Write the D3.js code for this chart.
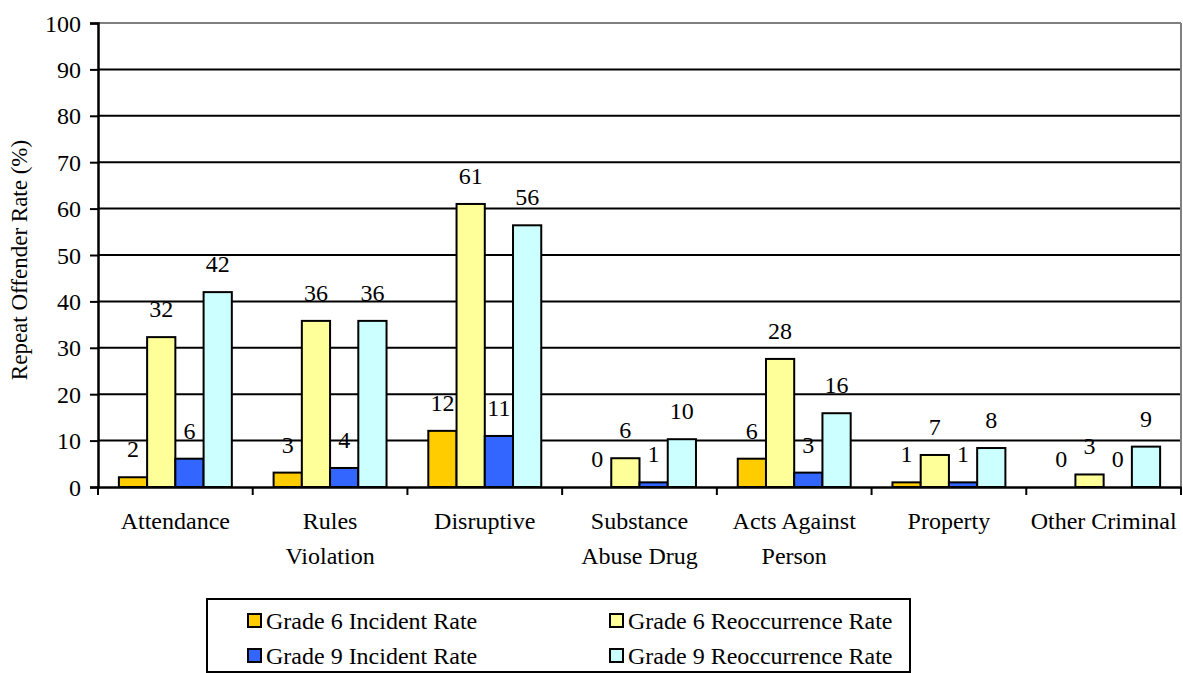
<!DOCTYPE html>
<html>
<head>
<meta charset="utf-8">
<script src="https://cdn.jsdelivr.net/npm/d3@7.9.0/dist/d3.min.js"></script>
<style>
  body { margin: 0; background: #fff; }
  svg { display: block; }
  svg text { font-family: "Liberation Serif", "DejaVu Serif", serif !important; fill: #000; }
</style>
</head>
<body>
<svg id="chart" width="1183" height="673" font-family="Liberation Serif, DejaVu Serif, serif"></svg>
<script>
// categories and series
const categories = [
  ["Attendance"],
  ["Rules", "Violation"],
  ["Disruptive"],
  ["Substance", "Abuse Drug"],
  ["Acts Against", "Person"],
  ["Property"],
  ["Other Criminal"]
];
const seriesNames = [
  "Grade 6 Incident Rate",
  "Grade 6 Reoccurrence Rate",
  "Grade 9 Incident Rate",
  "Grade 9 Reoccurrence Rate"
];
const grade6Incident = [2.1, 3.1, 12.1, 0, 6.1, 1.0, 0];
const grade6Reoccurrence = [32.3, 35.8, 61.0, 6.2, 27.6, 6.9, 2.7];
const grade9Incident = [6.1, 4.1, 11.0, 1.0, 3.1, 1.0, 0];
const grade9Reoccurrence = [42.0, 35.8, 56.4, 10.3, 15.9, 8.4, 8.7];
const yTicks = [0, 10, 20, 30, 40, 50, 60, 70, 80, 90, 100];
const colors = ["#FFCC00", "#FFFF99", "#3366FF", "#CCFFFF"];

const allSeries = [grade6Incident, grade6Reoccurrence, grade9Incident, grade9Reoccurrence];

const svg = d3.select("#chart");
const plotLeft = 98, plotRight = 1181, plotTop = 23, plotBottom = 487;
const fontSize = 24;

const y = d3.scaleLinear().domain([0, 100]).range([plotBottom, plotTop]);
const x = d3.scaleBand().domain(d3.range(categories.length)).range([plotLeft, plotRight]).paddingInner(0).paddingOuter(0);
// the four bars sit in the middle of each category
const groupW = x.bandwidth() * 0.73;
const xs = d3.scaleBand().domain(d3.range(seriesNames.length)).range([0, groupW]);

// gridlines
svg.append("g").selectAll("line")
  .data(yTicks.filter(d => d > 0))
  .join("line")
  .attr("x1", plotLeft).attr("x2", plotRight)
  .attr("y1", d => y(d)).attr("y2", d => y(d))
  .attr("stroke", d => d === 100 ? "#808080" : "#000")
  .attr("stroke-width", 2);

// right edge of plot area
svg.append("line")
  .attr("x1", plotRight).attr("x2", plotRight)
  .attr("y1", y(100)).attr("y2", y(0))
  .attr("stroke", "#808080").attr("stroke-width", 2);

// y axis
const yAxis = svg.append("g")
  .attr("transform", `translate(${plotLeft},0)`)
  .call(d3.axisLeft(y).tickValues(yTicks).tickSize(8).tickPadding(8));
yAxis.attr("font-family", null).attr("font-size", null);
yAxis.select(".domain").attr("stroke", "#000").attr("stroke-width", 2.5);
yAxis.selectAll(".tick line").attr("stroke", "#000").attr("stroke-width", 2);
yAxis.selectAll(".tick text")
  .attr("font-size", fontSize)
  .attr("x", -17)
  .attr("dy", "0.34em");

// bars
const groups = svg.append("g").selectAll("g")
  .data(categories)
  .join("g")
  .attr("transform", (d, i) => `translate(${x(i) + (x.bandwidth() - groupW) / 2},0)`);

groups.each(function (cat, ci) {
  const g = d3.select(this);
  allSeries.forEach((vals, si) => {
    const v = vals[ci];
    if (v > 0) {
      g.append("rect")
        .attr("x", xs(si))
        .attr("y", y(v))
        .attr("width", xs.bandwidth())
        .attr("height", y(0) - y(v))
        .attr("fill", colors[si])
        .attr("stroke", "#000")
        .attr("stroke-width", 2);
    }
    g.append("text")
      .attr("x", xs(si) + xs.bandwidth() / 2)
      .attr("y", y(v) - 20)
      .attr("text-anchor", "middle")
      .attr("font-size", fontSize)
      .text(d3.format(".0f")(v));
  });
});

// x axis
const xAxis = svg.append("g")
  .attr("transform", `translate(0,${plotBottom})`)
  .call(d3.axisBottom(x).tickSize(0).tickFormat(""));
xAxis.select(".domain").attr("stroke", "#000").attr("stroke-width", 2.5);

// ticks at category boundaries
svg.append("g").selectAll("line")
  .data(d3.range(categories.length + 1))
  .join("line")
  .attr("x1", i => i < categories.length ? x(i) : plotRight)
  .attr("x2", i => i < categories.length ? x(i) : plotRight)
  .attr("y1", plotBottom).attr("y2", plotBottom + 8)
  .attr("stroke", "#000").attr("stroke-width", 2);

// category labels
svg.append("g").selectAll("text")
  .data(categories)
  .join("text")
  .attr("x", (d, i) => x(i) + x.bandwidth() / 2)
  .attr("y", 529)
  .attr("text-anchor", "middle")
  .attr("font-size", fontSize)
  .each(function (lines) {
    const t = d3.select(this);
    lines.forEach((ln, k) => {
      t.append("tspan")
        .attr("x", t.attr("x"))
        .attr("dy", k === 0 ? 0 : 35)
        .text(ln);
    });
  });

// y axis title
svg.append("text")
  .attr("transform", "translate(27,260) rotate(-90)")
  .attr("text-anchor", "middle")
  .attr("font-size", fontSize - 1)
  .text("Repeat Offender Rate (%)");

// legend
const legend = svg.append("g");
legend.append("rect")
  .attr("x", 207).attr("y", 599)
  .attr("width", 703).attr("height", 73)
  .attr("fill", "#fff").attr("stroke", "#000").attr("stroke-width", 2);

const legendCols = [248, 610];
const legendRows = [621, 656];
seriesNames.forEach((name, i) => {
  const lx = legendCols[i % 2];
  const ly = legendRows[Math.floor(i / 2)];
  legend.append("rect")
    .attr("x", lx).attr("y", ly - 7)
    .attr("width", 13).attr("height", 13)
    .attr("fill", colors[i])
    .attr("stroke", "#000").attr("stroke-width", 2);
  legend.append("text")
    .attr("x", lx + 18)
    .attr("y", ly + 8)
    .attr("font-size", fontSize)
    .text(name);
});
</script>
</body>
</html>
